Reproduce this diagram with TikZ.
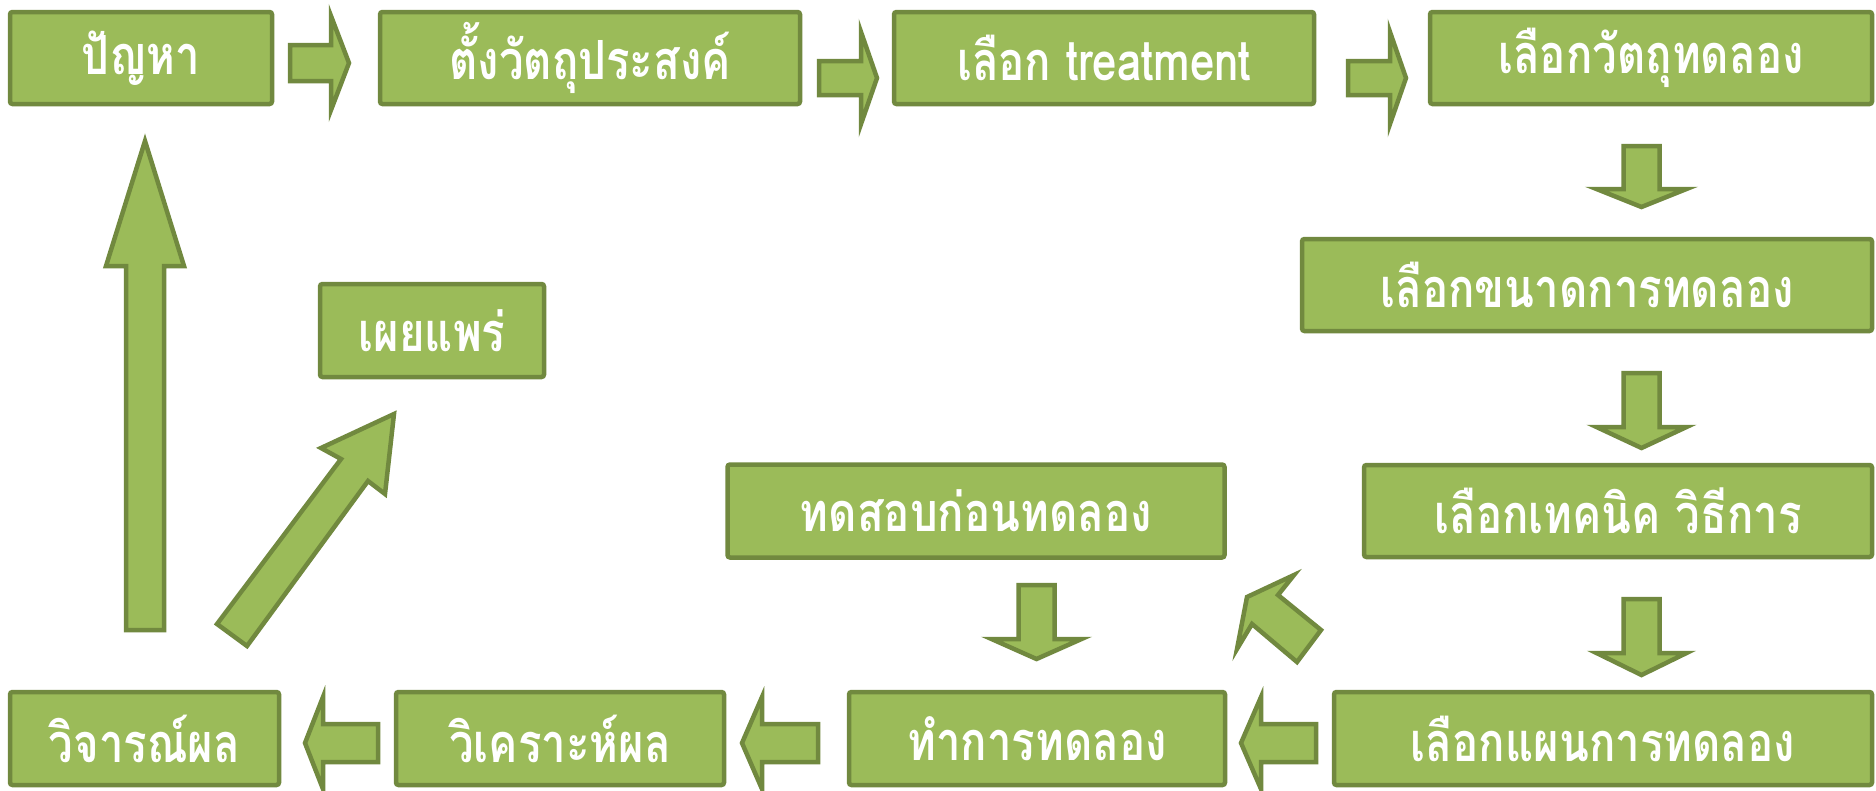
\documentclass[tikz,border=0pt]{standalone}
\usepackage{fontspec}
\newfontfamily\thaifont[Script=Thai,FakeStretch=0.81]{Loma}
\definecolor{boxfill}{HTML}{9BBB59}
\definecolor{boxline}{HTML}{71893F}
\tikzset{
  stepbox/.style={draw=boxline, fill=boxfill, line width=4.5pt, rounded corners=2.5pt,
    inner sep=0pt, text=white, font=\thaifont\bfseries\fontsize{54}{64}\selectfont},
  blockarrow/.style={draw=boxline, fill=boxfill, line width=4.5pt, line join=miter}
}
% horizontal block arrow: tail x, head-base x, tip x, y centre, body half, head half
\newcommand{\hblock}[6]{%
  \draw[blockarrow] (#1,#4-#5) -- (#2,#4-#5) -- (#2,#4-#6) -- (#3,#4) -- (#2,#4+#6)
    -- (#2,#4+#5) -- (#1,#4+#5) -- cycle;}
% vertical block arrow: tail y, head-base y, tip y, x centre, body half, head half
\newcommand{\vblock}[6]{%
  \draw[blockarrow] (#4-#5,#1) -- (#4-#5,#2) -- (#4-#6,#2) -- (#4,#3) -- (#4+#6,#2)
    -- (#4+#5,#2) -- (#4+#5,#1) -- cycle;}
\begin{document}
\begin{tikzpicture}[x=1pt,y=-1pt]
\useasboundingbox (0,0) rectangle (1876,790);
% boxes: centre, width, height
\node[stepbox, minimum width=262pt, minimum height=92pt] (b1) at (141,58) {ปัญหา};
\node[stepbox, minimum width=420pt, minimum height=92pt] (b2) at (590,58) {ตั้งวัตถุประสงค์};
\node[stepbox, minimum width=420pt, minimum height=92pt] (b3) at (1104,58) {เลือก treatment};
\node[stepbox, minimum width=442pt, minimum height=92pt] (b4) at (1651,58) {เลือกวัตถุทดลอง};
\node[stepbox, minimum width=570pt, minimum height=92pt] (b5) at (1587,285) {เลือกขนาดการทดลอง};
\node[stepbox, minimum width=508pt, minimum height=92pt] (b6) at (1618,511) {เลือกเทคนิค วิธีการ};
\node[stepbox, minimum width=538pt, minimum height=93pt] (b7) at (1603,738.5) {เลือกแผนการทดลอง};
\node[stepbox, minimum width=376pt, minimum height=93pt] (b8) at (1037,738.5) {ทำการทดลอง};
\node[stepbox, minimum width=328pt, minimum height=93pt] (b9) at (560,738.5) {วิเคราะห์ผล};
\node[stepbox, minimum width=269pt, minimum height=93pt] (b10) at (144.5,738.5) {วิจารณ์ผล};
\node[stepbox, minimum width=224pt, minimum height=93pt] (b11) at (432,330.5) {เผยแพร่};
\node[stepbox, minimum width=497pt, minimum height=93pt] (b12) at (976,511) {ทดสอบก่อนทดลอง};
% top row arrows (right)
\hblock{290}{331}{349}{63}{18}{47}
\hblock{819}{861}{877}{78}{17}{46}
\hblock{1348}{1390}{1406}{78}{17}{46}
% right column arrows (down)
\vblock{146}{189}{207}{1641.5}{18}{45}
\vblock{373}{427}{448}{1641.5}{18}{45}
\vblock{599}{653}{675}{1641.5}{18}{45}
\vblock{585}{639}{659}{1036.5}{18}{45}
% bottom row arrows (left)
\hblock{1316}{1261}{1241}{743}{19}{46}
\hblock{818}{762}{742}{743}{19}{46}
\hblock{378}{323}{305}{743}{19}{46}
% up arrow
\vblock{630}{266}{141}{145}{19}{39}
% diagonal arrow to b11
\draw[blockarrow] (217,624) -- (341,459) -- (321,448) -- (394,414) -- (385,494)
  -- (368,481) -- (247,646) -- cycle;
% arrow from b7 towards b12
\draw[blockarrow] (1247,597) -- (1294,575) -- (1278,595) -- (1321,630) -- (1297,662)
  -- (1252,624) -- (1237,649) -- cycle;
\end{tikzpicture}
\end{document}
